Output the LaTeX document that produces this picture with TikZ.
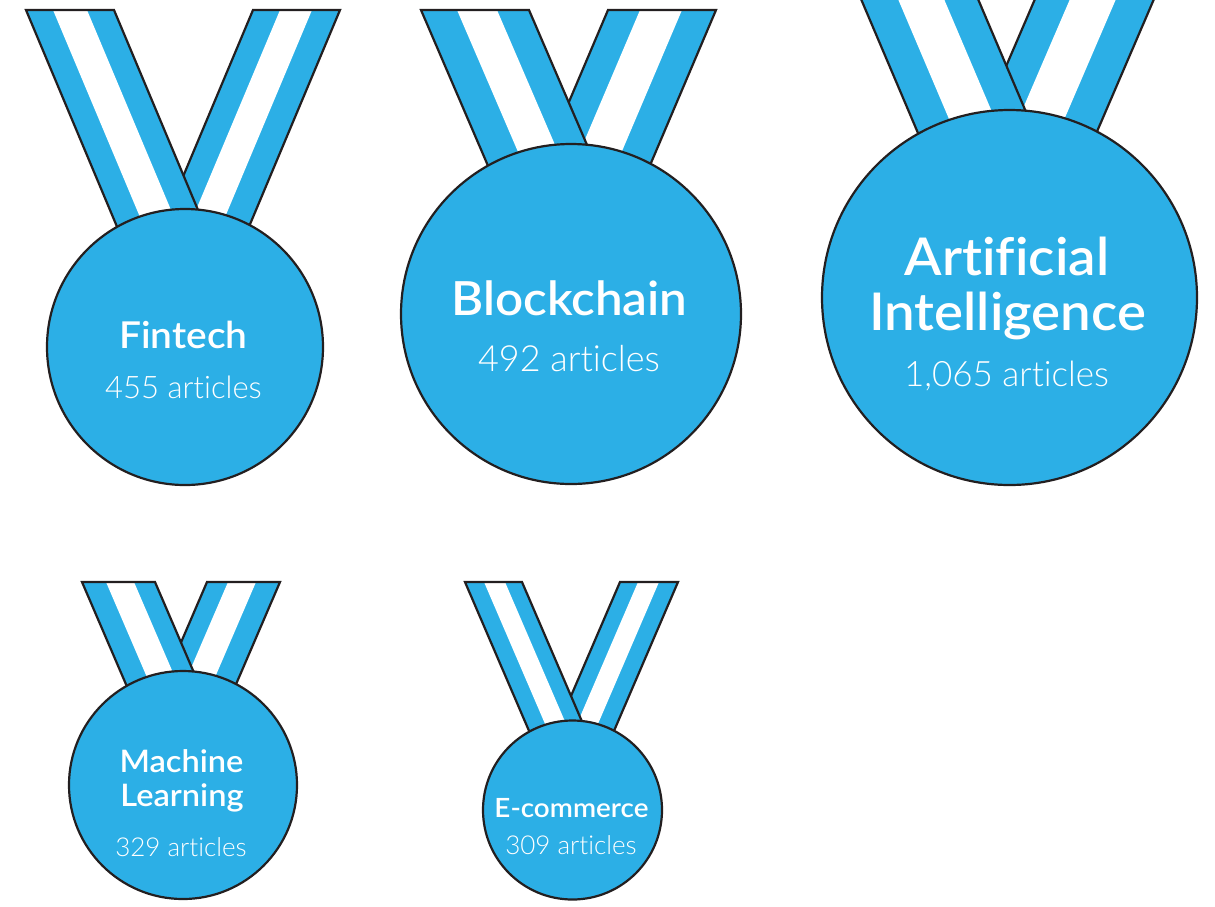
\documentclass[tikz,border=0pt]{standalone}
\usepackage{fontspec}
\setmainfont{Lato}
\newfontfamily\headfont[Ligatures=NoCommon,FakeStretch=1.05]{Lato Semibold}
\newfontfamily\subfont[Ligatures=NoCommon]{Lato Light}
\definecolor{medalblue}{HTML}{2CAFE6}
\definecolor{medalink}{HTML}{231F20}
\tikzset{
  x=1pt,y=-1pt,
  inkline/.style={draw=medalink,line width=2.2pt,line join=miter,line cap=butt},
  disc/.style={fill=medalblue,inkline},
  headtext/.style={text=white,anchor=base,inner sep=0pt,font=\headfont},
  subtext/.style={text=white,anchor=base,inner sep=0pt,font=\subfont},
}
% #1 top y, #2-#5 x at top (outer, white, white, outer), #6 slope (signed), #7 bottom y, #8 draw top edge (1/0)
\newcommand{\strapband}[8]{%
  \pgfmathsetmacro{\dxb}{#6*(#7-#1)}%
  \fill[medalblue] (#2,#1) -- (#5,#1) -- (#5+\dxb,#7) -- (#2+\dxb,#7) -- cycle;
  \fill[white] (#3,#1) -- (#4,#1) -- (#4+\dxb,#7) -- (#3+\dxb,#7) -- cycle;
  \ifnum#8=1
    \draw[inkline] (#2+\dxb,#7) -- (#2,#1) -- (#5,#1) -- (#5+\dxb,#7);
  \else
    \draw[inkline] (#2+\dxb,#7) -- (#2,#1) (#5,#1) -- (#5+\dxb,#7);
  \fi
}
\begin{document}
\begin{tikzpicture}
\useasboundingbox (0,0) rectangle (1215,906);
% Fintech
\strapband{10}{253}{280}{312}{340}{-.42}{240}{1}
\strapband{10}{26}{53}{87}{114}{.42}{240}{1}
\node[disc,circle,minimum size=276pt,inner sep=0pt] (m1) at (185,347) {};
\node[headtext,font=\headfont\fontsize{37}{37}\selectfont] (m1a) at (183.5,348) {Fintech};
\node[subtext,font=\subfont\fontsize{31}{31}\selectfont] (m1b) at (183.5,398) {455 articles};
% Blockchain
\strapband{10}{608}{640}{682}{716}{-.425}{178}{1}
\strapband{10}{421}{457}{497}{529}{.43}{178}{1}
\node[disc,circle,minimum size=340pt,inner sep=0pt] (m2) at (571,314) {};
\node[headtext,font=\headfont\fontsize{47}{47}\selectfont] (m2a) at (569.5,315) {Blockchain};
\node[subtext,font=\subfont\fontsize{36}{36}\selectfont] (m2b) at (569,371) {492 articles};
% Artificial Intelligence
\strapband{-1}{1035}{1070}{1116}{1154}{-.43}{148}{0}
\strapband{-1}{861}{898}{944}{978}{.425}{148}{0}
\node[disc,circle,minimum size=375pt,inner sep=0pt] (m3) at (1009.5,297.5) {};
\node[headtext,font=\headfont\fontsize{52}{52}\selectfont] (m3a) at (1007,275) {Artificial};
\node[headtext,font=\headfont\fontsize{52}{52}\selectfont] (m3b) at (1007.5,330) {Intelligence};
\node[subtext,font=\subfont\fontsize{35}{35}\selectfont] (m3c) at (1006.5,386) {1,065 articles};
% Machine Learning
\strapband{582}{207}{228}{256}{280}{-.43}{694}{1}
\strapband{582}{82}{106}{134}{155}{.43}{694}{1}
\node[disc,circle,minimum size=228pt,inner sep=0pt] (m4) at (183,785) {};
\node[headtext,font=\headfont\fontsize{31}{31}\selectfont] (m4a) at (181.5,772) {Machine};
\node[headtext,font=\headfont\fontsize{31}{31}\selectfont] (m4b) at (182,806) {Learning};
\node[subtext,font=\subfont\fontsize{26}{26}\selectfont] (m4c) at (181,856) {329 articles};
% E-commerce
\strapband{582}{620}{638}{659}{678}{-.43}{738}{1}
\strapband{582}{465}{484}{505}{522}{.43}{738}{1}
\node[disc,circle,minimum size=179pt,inner sep=0pt] (m5) at (572.5,810) {};
\node[headtext,font=\headfont\fontsize{26.5}{26.5}\selectfont] (m5a) at (571.5,817) {E-commerce};
\node[subtext,font=\subfont\fontsize{26}{26}\selectfont] (m5b) at (571,854) {309 articles};
\end{tikzpicture}
\end{document}
